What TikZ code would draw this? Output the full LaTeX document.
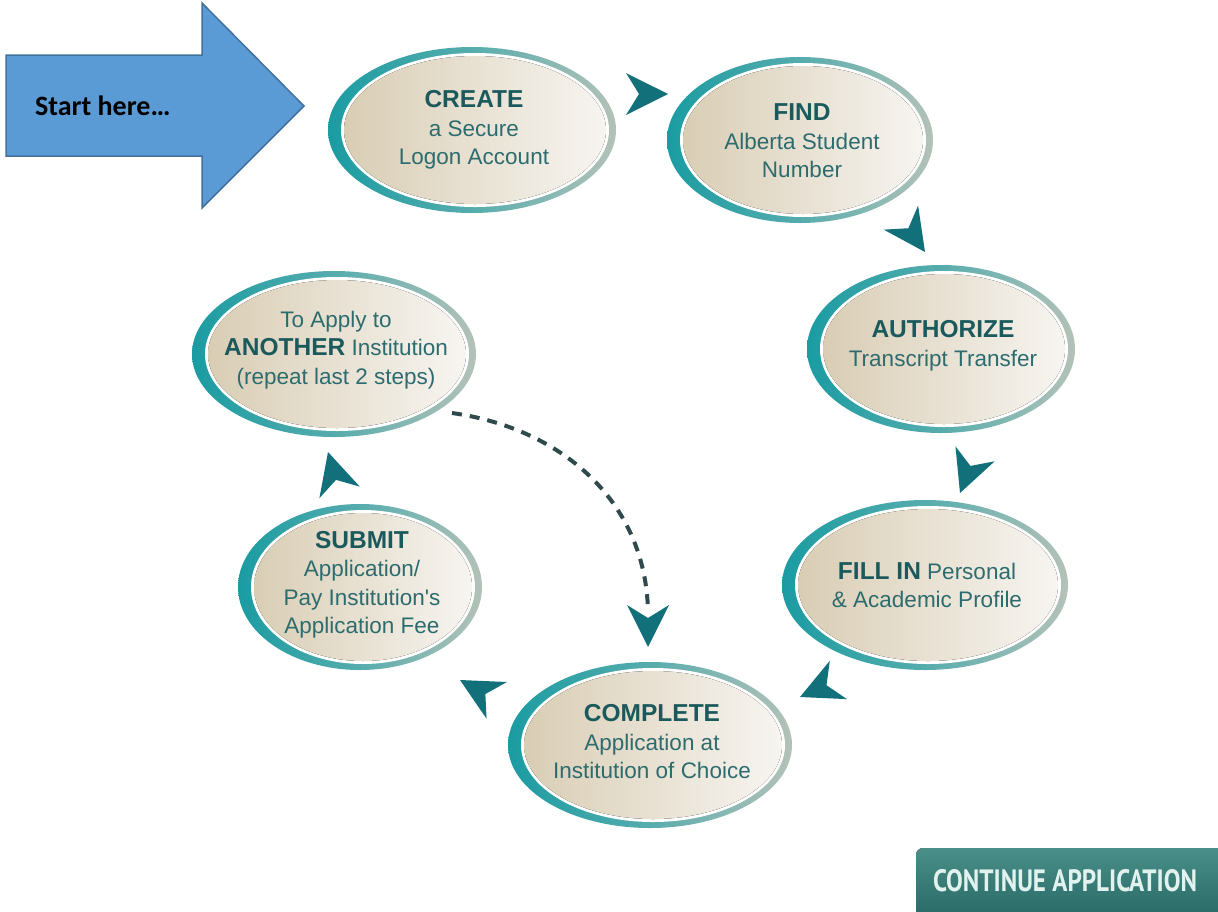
\documentclass[tikz,border=0pt]{standalone}
\usepackage{graphicx}
\usepackage{fontspec}
\setmainfont{Liberation Sans}
\newfontfamily\arial{Liberation Sans}
\newfontfamily\calibri{Carlito}
\newfontfamily\ptsans{PT Sans}
\usetikzlibrary{shapes.geometric}

\definecolor{ringL}{HTML}{1A9CA2}
\definecolor{ringM}{HTML}{56ACAD}
\definecolor{ringR}{HTML}{B4C2B8}
\definecolor{begL}{HTML}{D9CDB4}
\definecolor{begR}{HTML}{F7F5F1}
\definecolor{tbold}{HTML}{1B5A5C}
\definecolor{treg}{HTML}{2D6C6E}
\definecolor{chevc}{HTML}{12707A}
\definecolor{dashc}{HTML}{2F4A4C}
\definecolor{arrowfill}{HTML}{5B9BD5}
\definecolor{arrowline}{HTML}{41719C}
\definecolor{btnT}{HTML}{4A8F89}
\definecolor{btnB}{HTML}{1D5D59}
\definecolor{btnText}{HTML}{E2F2EF}

\tikzset{
  ringnode/.style={ellipse, inner sep=0pt, left color=ringL, right color=ringR, middle color=ringM},
  steptext/.style={align=center, inner sep=0pt, text=treg, font=\arial\fontsize{22.5}{28.5}\selectfont},
  chevfill/.style={fill=chevc},
  dashconn/.style={draw=dashc, line width=4pt, dash pattern=on 10pt off 8pt},
  startarrow/.style={fill=arrowfill, draw=arrowline, line width=1.5pt, line join=miter},
  starttext/.style={anchor=west, inner sep=0pt, font=\calibri\bfseries\fontsize{28}{32}\selectfont},
  btnbox/.style={top color=btnT, bottom color=btnB, rounded corners=7pt},
  btntext/.style={inner sep=0pt, text=btnText}
}

\newcommand\hb[1]{{\fontsize{24.5}{28.5}\selectfont\bfseries\color{tbold}#1}}

% name, cx, cy, width, height, text dy, text
\newcommand\stepell[7]{%
  \node[ringnode, minimum width=#4pt, minimum height=#5pt] (#1) at (#2,#3) {};
  \fill[white] (#2+3,#3) ellipse [x radius=#4/2-10, y radius=#5/2-6];
  \fill[left color=begL, right color=begR] (#2+3,#3) ellipse [x radius=#4/2-13, y radius=#5/2-9];
  \node[steptext] (#1-t) at (#2+2,#3+#6) {#7};
}

% tip x, tip y, direction angle
\newcommand\chev[3]{%
  \fill[chevfill, shift={(#1,#2)}, rotate=#3] (0,0) -- (-42,-21) -- (-29,0) -- (-42,21) -- cycle;
}

\begin{document}
\begin{tikzpicture}[x=1pt, y=-1pt]
\useasboundingbox (0,0) rectangle (1218,911);
\begin{scope}
\clip (0,0) rectangle (1218,911);

% start arrow
\draw[startarrow] (6,55) -- (202,55) -- (202,3) -- (304,106) -- (202,208) -- (202,156) -- (6,156) -- cycle;
\node[starttext] (start) at (35,106) {Start here…};

% steps
\stepell{create}{472}{130}{288}{166}{0}{\hb{CREATE}\\a Secure\\Logon Account}
\stepell{find}{800}{140}{266}{166}{1}{\hb{FIND}\\Alberta Student\\Number}
\stepell{authorize}{941}{349}{268}{168}{-3}{\hb{AUTHORIZE}\\Transcript Transfer}
\stepell{fillin}{925}{585}{286}{170}{0}{\hb{FILL IN} Personal\\\&~Academic Profile}
\stepell{complete}{650}{745}{284}{166}{-3}{\hb{COMPLETE}\\Application at\\Institution of Choice}
\stepell{submit}{360}{587}{244}{166}{-2}{\hb{SUBMIT}\\Application/\\Pay Institution's\\Application Fee}
\stepell{another}{334}{354}{284}{166}{-4}{To Apply to\\\hb{ANOTHER} Institution\\(repeat last 2 steps)}

% chevron arrowheads
\chev{668}{94}{0}
\chev{925}{252}{-55}
\chev{960}{493}{-111}
\chev{800}{697}{-156}
\chev{460}{680}{151}
\chev{328}{452}{106}

% dashed connector
\coordinate (dstart) at (452,413);
\coordinate (dend) at (648,612);
\draw[dashconn] (dstart) .. controls (560,428) and (646,500) .. (dend);
\chev{648}{647}{-90}

% button
\fill[btnbox] (916,848) rectangle (1240,940);
\node[btntext] (cont) at (1065,881) {\resizebox{264pt}{22pt}{\ptsans\bfseries CONTINUE APPLICATION}};
\end{scope}
\end{tikzpicture}
\end{document}
